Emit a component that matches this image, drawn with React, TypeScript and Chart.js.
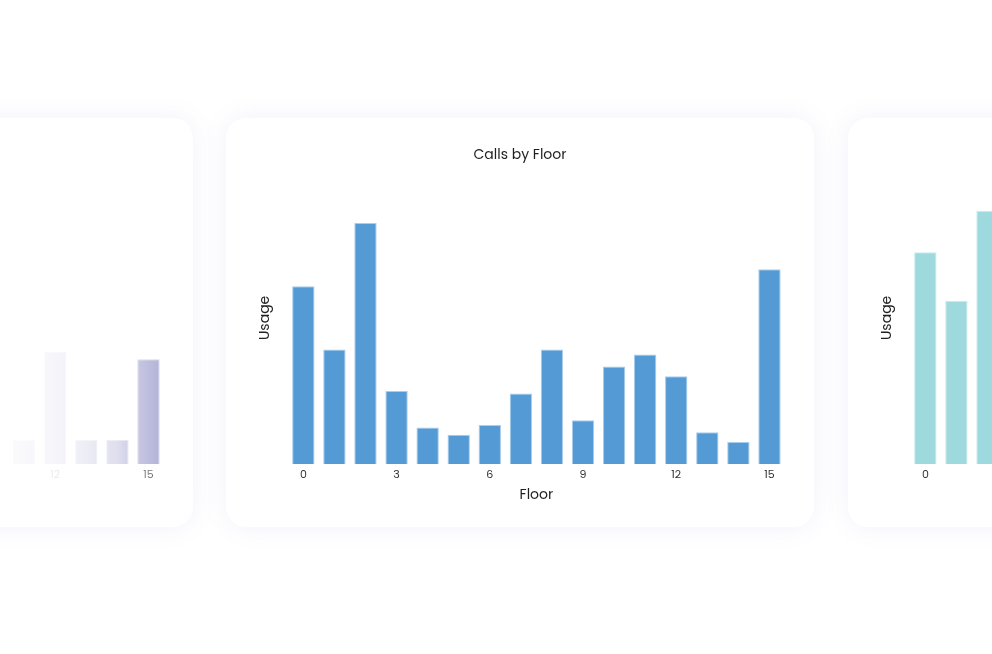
import React, { useEffect, useRef } from "react";
import { Chart, registerables } from "chart.js";

Chart.register(...registerables);

// ---- data ----
const floors = ["0", "1", "2", "3", "4", "5", "6", "7", "8", "9", "10", "11", "12", "13", "14", "15"];
const mainUsage = [73, 47, 99, 30, 15, 12, 16, 29, 47, 18, 40, 45, 36, 13, 9, 80];
// side cards: only the visible bars can be read; the rest are unknown (null)
const leftUsage = [null, null, null, null, null, null, null, null, null, null, null, 10, 46, 10, 10, 43];
const rightUsage = [87, 67, 104, null, null, null, null, null, null, null, null, null, null, null, null, null];
const chartTitle = "Calls by Floor";
const xTitle = "Floor";
const yTitle = "Usage";
const tickStep = 3;
const yMax = 120;

const FONT = "Poppins, 'Open Sans', sans-serif";

const CARD_W = 588;
const CARD_H = 409;
const CARD_TOP = 118;

type CardProps = {
  left: number;
  values: (number | null)[];
  color: string;
  border: string;
};

function ChartCard({ left, values, color, border }: CardProps) {
  const ref = useRef<HTMLCanvasElement | null>(null);
  useEffect(() => {
    if (!ref.current) return;
    const chart = new Chart(ref.current, {
      type: "bar",
      data: {
        labels: floors,
        datasets: [
          {
            data: values,
            backgroundColor: color,
            borderColor: border,
            borderWidth: 1,
          },
        ],
      },
      options: {
        animation: false,
        responsive: true,
        maintainAspectRatio: false,
        layout: { padding: { left: 29, right: 29, top: 19, bottom: 19 } },
        plugins: {
          legend: { display: false },
          tooltip: { enabled: false },
          title: {
            display: true,
            text: chartTitle,
            color: "#1f1f1f",
            font: { family: FONT, size: 14, weight: "normal" },
            padding: { top: 10, bottom: 8 },
          },
        },
        scales: {
          x: {
            grid: { display: false, drawTicks: false },
            border: { display: false },
            ticks: {
              autoSkip: false,
              maxRotation: 0,
              padding: 5,
              color: "#333",
              font: { family: FONT, size: 11 },
              callback: (_v: any, i: number) => (i % tickStep === 0 ? floors[i] : ""),
            },
            title: {
              display: true,
              text: xTitle,
              color: "#1f1f1f",
              font: { family: FONT, size: 14 },
              padding: { top: 0, bottom: 4 },
            },
          },
          y: {
            min: 0,
            max: yMax,
            grid: { display: false, drawTicks: false },
            border: { display: false },
            ticks: { display: false },
            title: {
              display: true,
              text: yTitle,
              color: "#1f1f1f",
              font: { family: FONT, size: 14 },
              padding: { top: 2, bottom: 14 },
            },
          },
        },
      },
    });
    return () => chart.destroy();
  }, []);
  return (
    <div
      style={{
        position: "absolute",
        left,
        top: CARD_TOP,
        width: CARD_W,
        height: CARD_H,
        background: "#fff",
        borderRadius: 20,
        boxShadow: "0 0 26px rgba(110, 110, 210, 0.09)",
      }}
    >
      <div style={{ position: "absolute", left: 0, top: 0, width: CARD_W, height: CARD_H }}>
        <canvas ref={ref} />
      </div>
    </div>
  );
}

export default function App() {
  return (
    <div
      style={{
        position: "fixed",
        left: 0,
        top: 0,
        width: 992,
        height: 654,
        overflow: "hidden",
        background: "#fff",
      }}
    >
      <ChartCard left={-395} values={leftUsage} color="#9b9bcd" border="#c4c4e4" />
      <div
        style={{
          position: "absolute",
          left: 0,
          top: CARD_TOP,
          width: 193,
          height: CARD_H,
          background:
            "linear-gradient(to right, rgba(255,255,255,0.97) 0px, rgba(255,255,255,0.9) 55px, rgba(255,255,255,0.82) 86px, rgba(255,255,255,0.68) 117px, rgba(255,255,255,0.45) 137px, rgba(255,255,255,0.25) 159px, rgba(255,255,255,0.05) 193px)",
        }}
      />
      <ChartCard left={226} values={mainUsage} color="#549bd5" border="#a9cdec" />
      <ChartCard left={848} values={rightUsage} color="#9dd9dd" border="#c9ecee" />
    </div>
  );
}
